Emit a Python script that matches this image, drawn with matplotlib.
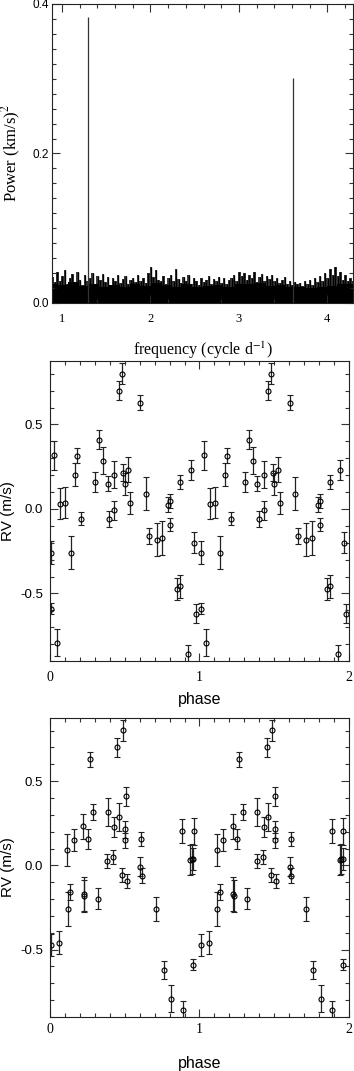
import matplotlib
matplotlib.use('Agg')
import matplotlib.pyplot as plt
import numpy as np
from matplotlib.ticker import MultipleLocator, FormatStrFormatter

plt.rcParams['axes.unicode_minus'] = False
plt.rcParams['mathtext.fontset'] = 'stix'

SERIF = 'Liberation Serif'
SANS = 'Liberation Sans'

# periodogram: two peaks + noise floor
peak_freq = [1.298, 3.613]
peak_power = [0.383, 0.301]

noise_spikes = [
    0.035, 0.028, 0.041, 0.030, 0.036, 0.044, 0.025, 0.033, 0.039, 0.027,
    0.042, 0.031, 0.024, 0.037, 0.029,
    0.034, 0.040, 0.026, 0.036, 0.031, 0.039, 0.028, 0.035, 0.024, 0.033,
    0.030, 0.038, 0.027, 0.032,
    0.036, 0.025, 0.031, 0.034, 0.028, 0.037, 0.030, 0.033, 0.027, 0.040,
    0.048, 0.035, 0.044, 0.031,
    0.029, 0.036, 0.026, 0.034, 0.038, 0.030, 0.046, 0.032, 0.027, 0.035,
    0.029, 0.037, 0.025, 0.033,
    0.030, 0.024, 0.034, 0.028, 0.031, 0.036, 0.026, 0.032, 0.029, 0.035,
    0.027, 0.033, 0.025, 0.031,
    0.034, 0.038, 0.029, 0.042, 0.036, 0.040, 0.031, 0.037, 0.033, 0.041,
    0.028, 0.035, 0.039, 0.030,
    0.036, 0.032, 0.038, 0.029, 0.034, 0.027, 0.031, 0.035, 0.026, 0.030,
    0.024, 0.028, 0.025, 0.027,
    0.023, 0.029, 0.026, 0.031, 0.024, 0.033, 0.028, 0.036, 0.030, 0.040,
    0.034, 0.045, 0.038, 0.048, 0.036, 0.041, 0.031, 0.037, 0.029, 0.034,
    0.030,
]
noise_floor = [
    0.026, 0.024, 0.028, 0.023, 0.025, 0.022, 0.024, 0.021, 0.025, 0.023,
    0.027, 0.024, 0.022, 0.025, 0.021, 0.023, 0.024, 0.022, 0.026, 0.025,
    0.027, 0.023, 0.024, 0.021, 0.022, 0.020, 0.021, 0.023, 0.025, 0.026,
]

# radial velocities, same measurements folded on two periods
rv = [-0.258, -0.590, 0.318, -0.791, 0.032, 0.037, -0.258, 0.203, 0.316, -0.057,
      0.158, 0.410, 0.286, 0.150, -0.061, -0.008, 0.203, 0.700, 0.801, 0.215,
      0.150, 0.233, 0.037, 0.629, 0.091, -0.158, -0.181, -0.170, 0.026, 0.049,
      -0.093, -0.471, -0.458, 0.158, -0.856, 0.229, -0.199, -0.619]
rv_err = [0.070, 0.033, 0.085, 0.080, 0.090, 0.090, 0.100, 0.070, 0.046, 0.040,
          0.060, 0.055, 0.082, 0.045, 0.046, 0.056, 0.080, 0.056, 0.060, 0.050,
          0.065, 0.075, 0.065, 0.045, 0.095, 0.047, 0.095, 0.100, 0.042, 0.042,
          0.040, 0.065, 0.068, 0.043, 0.050, 0.060, 0.062, 0.054]
phase_a = [0.007, 0.007, 0.029, 0.045, 0.069, 0.102, 0.140, 0.169, 0.183, 0.209,
           0.303, 0.330, 0.356, 0.388, 0.396, 0.430, 0.430, 0.461, 0.479, 0.490,
           0.501, 0.523, 0.537, 0.604, 0.641, 0.659, 0.713, 0.751, 0.791, 0.804,
           0.804, 0.851, 0.871, 0.871, 0.924, 0.942, 0.964, 0.978]
phase_b = [0.710, 0.958, 0.388, 0.811, 0.938, 0.949, 0.120, 0.886, 0.290, 0.481,
           0.252, 0.508, 0.461, 0.503, 0.615, 0.604, 0.962, 0.450, 0.488, 0.503,
           0.160, 0.223, 0.958, 0.267, 0.116, 0.136, 0.229, 0.225, 0.383, 0.423,
           0.514, 0.007, 0.062, 0.610, 0.889, 0.430, 0.318, 0.762]


def box_ticks(ax, major=5, minor=2.5):
    ax.tick_params(which='both', direction='in', top=True, right=True,
                   width=0.8, color='#333333')
    ax.tick_params(which='major', length=major)
    ax.tick_params(which='minor', length=minor)
    for s in ax.spines.values():
        s.set_linewidth(0.8)
        s.set_color('#222222')


fig = plt.figure(figsize=(3.54, 10.71), dpi=100)

# ---- top: periodogram
ax1 = fig.add_axes([0.1469, 0.7171, 0.8503, 0.2792])
f_sp = np.linspace(0.89, 4.29, len(noise_spikes))
f_fl = np.linspace(0.89, 4.29, len(noise_floor))
ax1.fill_between(f_sp, 0, noise_spikes, step='mid', color='#3a3a3a', lw=0)
ax1.fill_between(f_fl, 0, noise_floor, step='mid', color='black', lw=0)
ax1.vlines(f_sp, 0, noise_spikes, color='black', lw=1.0)
ax1.vlines(peak_freq, 0, peak_power, color='#333333', lw=0.9)
ax1.set_xlim(0.887, 4.29)
ax1.set_ylim(0, 0.4)
ax1.xaxis.set_major_locator(MultipleLocator(1))
ax1.xaxis.set_minor_locator(MultipleLocator(0.2))
ax1.yaxis.set_major_locator(MultipleLocator(0.2))
ax1.yaxis.set_minor_locator(MultipleLocator(0.02))
ax1.yaxis.set_major_formatter(FormatStrFormatter('%.1f'))
box_ticks(ax1, 6, 3)
ax1.tick_params(axis='x', pad=7)
ax1.tick_params(axis='y', pad=2)
for t in ax1.get_xticklabels():
    t.set_fontfamily(SERIF)
    t.set_fontsize(9)
for t in ax1.get_yticklabels():
    t.set_fontfamily(SANS)
    t.set_fontsize(8.5)
ax1.set_xlabel('frequency (cycle d$^{-1}$)', family=SERIF, fontsize=11.5,
               va='center')
ax1.xaxis.set_label_coords(0.5, -0.157)
ax1.set_ylabel('Power (km/s)$^{2}$', family=SERIF, fontsize=12, va='center')
ax1.yaxis.set_label_coords(-0.135, 0.5)


def rv_panel(ax, phase, label_y):
    ph = np.array(phase)
    for shift in (0, 1):
        ax.errorbar(ph + shift, rv, yerr=rv_err, fmt='o', ms=3.6, mfc='none',
                    mec='black', mew=0.8, ecolor='#222222', elinewidth=0.9,
                    capsize=2.2, capthick=0.9)
    ax.set_xlim(0, 2)
    ax.set_ylim(-0.90, 0.875)
    ax.xaxis.set_major_locator(MultipleLocator(1))
    ax.xaxis.set_minor_locator(MultipleLocator(0.1))
    ax.yaxis.set_major_locator(MultipleLocator(0.5))
    ax.yaxis.set_minor_locator(MultipleLocator(0.1))
    ax.yaxis.set_major_formatter(FormatStrFormatter('%.1f'))
    box_ticks(ax, 6, 3)
    ax.tick_params(axis='y', pad=5)
    for t in ax.get_xticklabels():
        t.set_fontfamily(SERIF)
        t.set_fontsize(10)
    for t in ax.get_yticklabels():
        t.set_fontfamily(SANS)
        t.set_fontsize(9.5)
    ax.set_xlabel('phase', family=SANS, fontsize=11.5, va='center')
    ax.xaxis.set_label_coords(0.5, label_y)
    ax.set_ylabel('RV (m/s)', family=SANS, fontsize=11, va='center')
    ax.yaxis.set_label_coords(-0.139, 0.5)


ax2 = fig.add_axes([0.1412, 0.3828, 0.8446, 0.2801])
rv_panel(ax2, phase_a, -0.127)
ax2.tick_params(axis='x', pad=7)

ax3 = fig.add_axes([0.1412, 0.0504, 0.8446, 0.2792])
rv_panel(ax3, phase_b, -0.154)
ax3.tick_params(axis='x', pad=4)

fig.savefig('out.png', dpi=100)
